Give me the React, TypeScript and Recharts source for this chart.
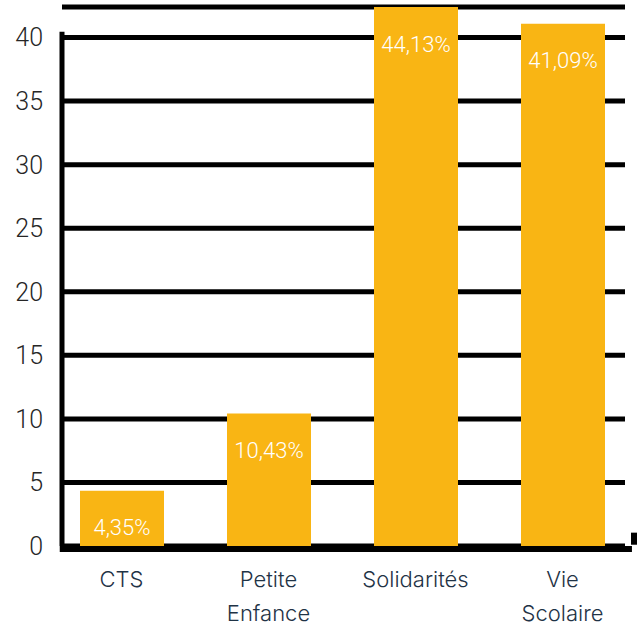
import React from 'react';
import { BarChart, Bar, XAxis, YAxis, CartesianGrid, ReferenceLine, LabelList } from 'recharts';

const categories = ['CTS', 'Petite\nEnfance', 'Solidarités', 'Vie\nScolaire'];
const shares = [4.35, 10.43, 44.13, 41.09];
const shareLabels = ['4,35%', '10,43%', '44,13%', '41,09%'];
const yTicks = [0, 5, 10, 15, 20, 25, 30, 35, 40];

const data = categories.map((c, i) => ({ name: c, value: shares[i], label: shareLabels[i] }));

const W = 643;
const H = 626;
const M = { top: 7, right: 18, bottom: 50, left: 0 };
const X_AXIS_H = 30;
const Y_MAX = 42.4;
const AXIS_TOP = 40.45;
const BAR_COLOR = '#F9B514';
const NUM_FONT = 'Roboto, "DejaVu Sans", sans-serif';
const CAT_FONT = 'Inter, "Noto Sans", sans-serif';

const CategoryTick = (props: any) => {
  const { x, y, payload } = props;
  const lines = String(payload.value).split('\n');
  return (
    <text x={x} y={y + 33} textAnchor="middle" fill="#1f3346" fontFamily={CAT_FONT} fontWeight={300} fontSize={22}>
      {lines.map((l, i) => (
        <tspan key={i} x={x} dy={i === 0 ? 0 : 34}>{l}</tspan>
      ))}
    </text>
  );
};

const BarValueLabel = (props: any) => {
  const vb = props.viewBox || {};
  const x = vb.x ?? props.x;
  const y = vb.y ?? props.y;
  const w = vb.width ?? props.width;
  const top = Math.max(y, M.top);
  return (
    <text
      x={x + w / 2}
      y={top + 37}
      textAnchor="middle"
      dominantBaseline="central"
      fill="#ffffff"
      fontFamily={NUM_FONT}
      fontWeight={300}
      fontSize={22}
    >
      {props.value}
    </text>
  );
};

const XLine = (props: any) => (
  <line x1={props.x1} y1={props.y1 + 3} x2={props.x2} y2={props.y2 + 3} stroke="#000" strokeWidth={6} />
);

export default function App() {
  return (
    <div style={{ position: 'absolute', left: 0, top: 0, width: W, height: H, background: '#fff' }}>
      <BarChart width={W} height={H} data={data} margin={M}>
        <CartesianGrid vertical={false} stroke="#000" strokeWidth={5} />
        <XAxis
          dataKey="name"
          height={X_AXIS_H}
          interval={0}
          axisLine={false}
          tickLine={false}
          padding={{ left: -14, right: -11 }}
          tick={<CategoryTick />}
        />
        <XAxis xAxisId="n" type="number" domain={[0, 3]} hide allowDataOverflow />
        <YAxis
          width={62}
          domain={[0, Y_MAX]}
          ticks={yTicks}
          allowDataOverflow
          axisLine={false}
          tickLine={false}
          tickMargin={13}
          tick={{ fill: '#262626', fontSize: 25, fontFamily: NUM_FONT, fontWeight: 300 }}
        />
        <Bar dataKey="value" fill={BAR_COLOR} barSize={84} isAnimationActive={false}>
          <LabelList dataKey="label" content={<BarValueLabel />} />
        </Bar>
        <ReferenceLine
          xAxisId="n"
          ifOverflow="visible"
          segment={[{ x: 0, y: 0 }, { x: 0, y: AXIS_TOP }]}
          stroke="#000"
          strokeWidth={5}
        />
        <ReferenceLine
          xAxisId="n"
          ifOverflow="visible"
          segment={[{ x: -0.012, y: 0 }, { x: 3.037, y: 0 }]}
          shape={<XLine />}
        />
        <ReferenceLine
          xAxisId="n"
          ifOverflow="visible"
          segment={[{ x: 3.048, y: 0.1 }, { x: 3.048, y: 1.05 }]}
          stroke="#000"
          strokeWidth={6}
        />
      </BarChart>
    </div>
  );
}
